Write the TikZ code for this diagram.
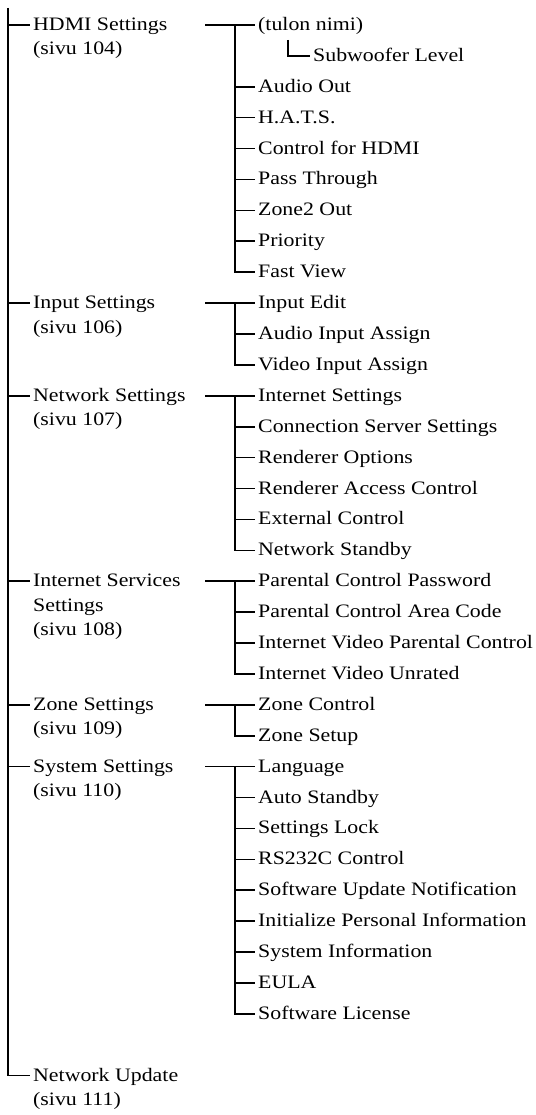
\documentclass[tikz,border=0pt]{standalone}
\usepackage{fontspec}
\setmainfont{Liberation Serif}[FakeStretch=1.15]
\begin{document}
\newcommand\Ry[1]{(25+30.9*(#1))}
\begin{tikzpicture}[x=1pt,y=-1pt,
  item/.style={anchor=west,inner xsep=3pt,inner ysep=0pt,text height=14pt,text depth=3pt,
     font=\fontsize{19}{24}\selectfont},
  tree/.style={line width=1.6pt}]
\useasboundingbox (0,0) rectangle (535,1115);
% ---------- left column labels ----------
\node[item] (hdmi)  at (30,{\Ry{0}}) {HDMI Settings};
\node[item] (hdmiP) at (30,{\Ry{0}+24.5}) {(sivu 104)};
\node[item] (inp)   at (30,{\Ry{9}}) {Input Settings};
\node[item] (inpP)  at (30,{\Ry{9}+24.5}) {(sivu 106)};
\node[item] (net)   at (30,{\Ry{12}}) {Network Settings};
\node[item] (netP)  at (30,{\Ry{12}+24.5}) {(sivu 107)};
\node[item] (isv)   at (30,{\Ry{18}}) {Internet Services};
\node[item] (isvS)  at (30,{\Ry{18}+24.5}) {Settings};
\node[item] (isvP)  at (30,{\Ry{18}+49}) {(sivu 108)};
\node[item] (zon)   at (30,{\Ry{22}}) {Zone Settings};
\node[item] (zonP)  at (30,{\Ry{22}+24.5}) {(sivu 109)};
\node[item] (sys)   at (30,{\Ry{24}}) {System Settings};
\node[item] (sysP)  at (30,{\Ry{24}+24.5}) {(sivu 110)};
\node[item] (nu)    at (30,{\Ry{34}}) {Network Update};
\node[item] (nuP)   at (30,{\Ry{34}+24.5}) {(sivu 111)};
% ---------- right column items ----------
\node[item] (r0) at (255,{\Ry{0}}) {(tulon nimi)};
\node[item] (sub) at (310,{\Ry{1}}) {Subwoofer Level};
\foreach \t [count=\i from 2] in {Audio Out, H.A.T.S., Control for HDMI, Pass Through,
    Zone2 Out, Priority, Fast View, Input Edit, Audio Input Assign, Video Input Assign,
    Internet Settings, Connection Server Settings, Renderer Options, Renderer Access Control,
    External Control, Network Standby, Parental Control Password, Parental Control Area Code,
    Internet Video Parental Control, Internet Video Unrated, Zone Control, Zone Setup,
    Language, Auto Standby, Settings Lock, RS232C Control, Software Update Notification,
    Initialize Personal Information, System Information, EULA, Software License}
  \node[item] (r\i) at (255,{\Ry{\i}}) {\t};
% ---------- trunk ----------
\coordinate (top) at (8,8);
\draw[tree] (top) |- (nu.west);
\foreach \n in {hdmi,inp,net,isv,zon,sys}
  \draw[tree] (top |- \n.west) -- (\n.west);
% ---------- sub trees ----------
\foreach \a/\b in {0/8,9/11,12/17,18/21,22/23,24/32} {
  \coordinate (s\a) at (205,{\Ry{\a}});
  \coordinate (v\a) at (235,{\Ry{\a}});
  \draw[tree] (s\a) -- (r\a.west);
  \draw[tree] (v\a) |- (r\b.west);
}
\foreach \k in {2,...,7,10,13,14,15,16,19,20,25,26,27,28,29,30,31}
  \draw[tree] (v0 |- r\k.west) -- (r\k.west);
\coordinate (sc) at (288,{\Ry{0}+15});
\draw[tree] (sc) |- (sub.west);
\end{tikzpicture}
\end{document}
